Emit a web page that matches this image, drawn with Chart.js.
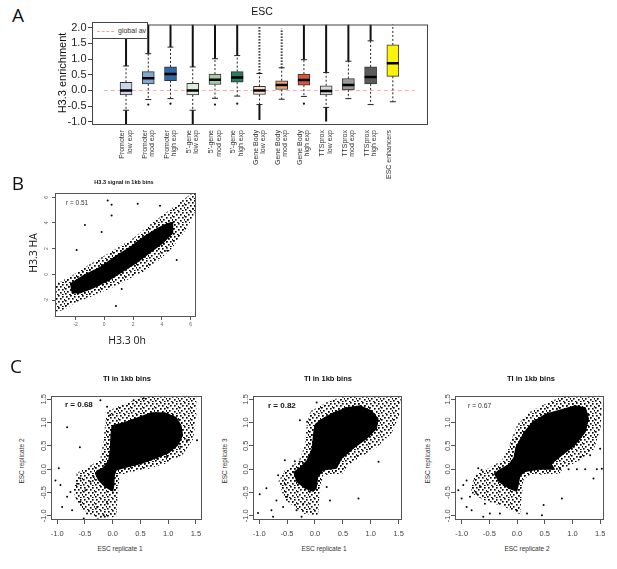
<!DOCTYPE html>
<html lang="en">
<head>
<meta charset="UTF-8">
<title>H3.3 enrichment and TI in 1kb bins</title>
<script src="https://cdn.jsdelivr.net/npm/chart.js@4.4.1/dist/chart.umd.min.js"></script>
<style>
  body { margin: 0; background: #fff; }
  #fig { position: relative; width: 617px; height: 569px; overflow: hidden;
         font-family: "Liberation Sans", Arial, sans-serif; color: #111; }
  canvas { position: absolute; }
  .t { position: absolute; white-space: nowrap; line-height: 1; transform: translate(-50%, -50%); z-index: 2; }
  .rot { transform: translate(-50%, -50%) rotate(-90deg); }
  .lbl { position: absolute; white-space: nowrap; line-height: 1; transform: translateY(-50%); z-index: 2; }
  .panel { font-family: "Open Sans", sans-serif; font-size: 19px; }
  .legend { position: absolute; left: 92px; top: 22px; width: 56px; height: 17px; background: #fff;
            border: 1px solid #444; box-sizing: border-box; z-index: 2; }
  .legend .dash { position: absolute; left: 4px; top: 8px; width: 17px; border-top: 1px dashed #f0a89c; }
  .legend span { position: absolute; left: 25px; top: 4px; font-size: 7px; color: #333; }
</style>
</head>
<body>
<div id="fig">
  <canvas id="boxA"></canvas>
  <canvas id="scatB"></canvas>
  <canvas id="scatC1"></canvas>
  <canvas id="scatC2"></canvas>
  <canvas id="scatC3"></canvas>

  <div class="t panel" style="left:18px; top:15px;">A</div>
  <div class="t" style="left:262px; top:11px; font-size:10.5px;">ESC</div>
  <div class="t rot" style="left:62px; top:73px; font-size:11px;">H3.3 enrichment</div>
  <div class="legend"><div class="dash"></div><span>global av</span></div>

  <div class="t panel" style="left:18px; top:183px;">B</div>
  <div class="t" style="left:124px; top:183px; font-size:5.5px; font-weight:bold;">H3.3 signal in 1kb bins</div>
  <div class="lbl" style="left:66px; top:203px; font-size:6.5px; color:#333;">r = 0.51</div>
  <div class="t" style="left:127px; top:340px; font-family:'Open Sans',sans-serif; font-size:10.5px;">H3.3 0h</div>
  <div class="t rot" style="left:33px; top:253px; font-family:'Open Sans',sans-serif; font-size:10.5px;">H3.3 HA</div>

  <div class="t panel" style="left:16px; top:366px;">C</div>
  <div class="t" style="left:127px; top:379px; font-size:7.5px; font-weight:bold;">TI in 1kb bins</div>
  <div class="t" style="left:328px; top:379px; font-size:7.5px; font-weight:bold;">TI in 1kb bins</div>
  <div class="t" style="left:531px; top:379px; font-size:7.5px; font-weight:bold;">TI in 1kb bins</div>
  <div class="lbl" style="left:65px; top:405px; font-size:8px; font-weight:bold;">r = 0.68</div>
  <div class="lbl" style="left:268px; top:406px; font-size:8px; font-weight:bold;">r = 0.82</div>
  <div class="lbl" style="left:468px; top:406px; font-size:6.8px; color:#333;">r = 0.67</div>
  <div class="t" style="left:120px; top:549px; font-size:6.5px; color:#333;">ESC replicate 1</div>
  <div class="t" style="left:324px; top:549px; font-size:6.5px; color:#333;">ESC replicate 1</div>
  <div class="t" style="left:527px; top:549px; font-size:6.5px; color:#333;">ESC replicate 2</div>
  <div class="t rot" style="left:22px; top:461px; font-size:6.5px; color:#333;">ESC replicate 2</div>
  <div class="t rot" style="left:225px; top:461px; font-size:6.5px; color:#333;">ESC replicate 3</div>
  <div class="t rot" style="left:428px; top:461px; font-size:6.5px; color:#333;">ESC replicate 3</div>
</div>

<script>
// ---------- Panel A: H3.3 enrichment by region class (box statistics)
const regionLabels = [
  ['Promoter', 'low exp'], ['Promoter', 'mod exp'], ['Promoter', 'high exp'],
  ["5'-gene", 'low exp'], ["5'-gene", 'mod exp'], ["5'-gene", 'high exp'],
  ['Gene Body', 'low exp'], ['Gene Body', 'mod exp'], ['Gene Body', 'high exp'],
  ['TTSprox', 'low exp'], ['TTSprox', 'mod exp'], ['TTSprox', 'high exp'],
  ['ESC enhancers']
];
const boxQ1      = [-0.14, 0.21, 0.31, -0.14, 0.19, 0.26, -0.13, 0.03, 0.17, -0.14, 0.02, 0.21, 0.45];
const boxMedian  = [0.00, 0.39, 0.52, 0.00, 0.34, 0.41, 0.00, 0.17, 0.33, -0.02, 0.17, 0.43, 0.87];
const boxQ3      = [0.26, 0.60, 0.75, 0.23, 0.52, 0.60, 0.13, 0.31, 0.52, 0.15, 0.38, 0.75, 1.45];
const whiskerLow  = [-0.63, -0.29, -0.26, -0.63, -0.25, -0.18, -0.45, -0.28, -0.19, -0.54, -0.26, -0.45, -0.36];
const whiskerHigh = [0.78, 1.17, 1.38, 0.75, 1.01, 1.11, 0.54, 0.72, 0.98, 0.57, 0.93, 1.58, 2.15];
// furthest outliers: dense runs, sparse runs and single points
const denseTop     = [2.1, 2.1, 2.1, 2.1, 2.1, 2.1, null, null, 2.1, 2.1, 2.1, 2.1, null];
const sparseTop    = [null, null, null, null, null, null, 2.02, 1.97, null, null, null, null, null];
const denseBottom  = [-1.1, null, null, -1.1, null, null, -0.94, null, null, -0.99, null, null, null];
const singleBottom = [null, -0.45, -0.42, null, -0.45, -0.42, null, null, -0.42, null, null, null, null];
const globalAverage = 0;
const enrichTicks = [-1.0, -0.5, 0.0, 0.5, 1.0, 1.5, 2.0];

const boxColors = ['#cdd5ea', '#81a6d1', '#2c69a8', '#e2ecdb', '#a8cba5', '#2b7c62', '#fadfcb',
                   '#f2a373', '#d95934', '#d9d9d9', '#9b9b9b', '#5a5a5a', '#fbf30c'];

// ---------- Panel B: H3.3 signal in 1kb bins (cloud outline, core outline, isolated points)
const bHalo = [[-3.42,-1.23],[-3.31,-0.84],[-2.38,-0.31],[-1.46,0.34],[-0.30,1.12],[0.86,1.90],[2.01,2.68],
  [3.17,3.72],[4.10,4.50],[5.03,5.28],[5.95,6.06],[6.40,6.40],[6.42,5.55],[5.95,4.24],[5.37,3.20],[4.56,2.03],
  [3.64,1.12],[2.71,0.34],[1.56,-0.31],[0.40,-0.97],[-0.99,-1.62],[-2.15,-2.14],[-2.85,-2.66],[-3.42,-2.79]];
const bCore = [[-2.38,-0.70],[-1.46,-0.05],[-0.30,0.59],[0.86,1.51],[1.78,2.16],[2.71,2.94],[3.64,3.59],
  [4.33,3.98],[4.79,4.11],[4.79,3.20],[4.10,2.42],[3.17,1.64],[2.25,0.86],[1.32,0.20],[0.40,-0.45],
  [-0.76,-1.09],[-1.69,-1.48],[-2.26,-1.48]];
const bPoints = [[0.51,5.41],[2.32,5.49],[3.87,5.34],[0.24,5.75],[0.51,4.58],[-1.34,3.85],[-0.18,3.30],
  [4.38,1.84],[5.03,1.12],[-1.92,1.90],[1.21,-1.13],[0.81,-2.45]];
const bTicks = [-2, 0, 2, 4, 6];

// ---------- Panel C: TI in 1kb bins, replicate pairs
const c1Halo = [[-0.08,1.22],[0.22,1.37],[0.52,1.51],[0.82,1.58],[1.24,1.62],[1.48,1.55],[1.48,1.08],[1.42,0.65],
  [1.24,0.33],[0.94,0.15],[0.64,0.04],[0.34,-0.03],[0.10,-0.10],[0.07,-0.49],[0.04,-0.99],[-0.26,-1.03],
  [-0.56,-0.82],[-0.68,-0.49],[-0.62,-0.10],[-0.44,0.01],[-0.20,0.19],[-0.14,0.58],[-0.11,0.94]];
const c1Core = [[-0.02,0.94],[0.22,1.01],[0.46,1.12],[0.70,1.22],[0.94,1.22],[1.15,1.12],[1.24,0.94],[1.27,0.72],
  [1.18,0.51],[1.00,0.33],[0.76,0.22],[0.52,0.11],[0.28,0.04],[0.07,-0.03],[0.04,-0.14],[0.03,-0.35],[0.01,-0.49],
  [-0.14,-0.39],[-0.26,-0.24],[-0.32,-0.10],[-0.29,-0.03],[-0.17,0.04],[-0.08,0.19],[-0.05,0.44],[-0.04,0.72]];
const c1Points = [[-0.82,0.90],[-0.59,0.47],[-0.97,0.02],[-1.03,-0.24],[-0.94,-0.34],[-0.82,-0.59],[-0.91,-0.81],
  [-0.73,-0.88],[-0.58,-0.70],[-0.49,-0.45],[-0.40,-0.27],[-0.64,-0.31],[-0.46,-0.95],[-0.28,-0.81],[-0.16,-0.99],
  [-0.52,-1.06],[-0.10,-0.70],[-0.34,-0.17],[-0.58,-0.20],[-0.76,-0.49],[-0.10,1.34],[-0.04,1.16],[-0.22,1.48],
  [0.98,0.26],[1.34,0.62],[1.52,0.62],[0.80,0.23],[1.22,0.48],[0.38,1.48],[0.56,1.52]];

const c2Halo = [[-0.06,1.22],[0.27,1.44],[0.57,1.55],[0.93,1.62],[1.35,1.62],[1.51,1.51],[1.48,1.15],[1.35,0.79],
  [1.11,0.51],[0.81,0.29],[0.57,0.11],[0.48,-0.06],[0.12,-0.10],[0.06,-0.49],[0.03,-0.96],[-0.21,-0.92],
  [-0.51,-0.64],[-0.63,-0.28],[-0.51,-0.03],[-0.27,0.15],[-0.15,0.51],[-0.12,0.94]];
const c2Core = [[0.00,0.97],[0.12,1.08],[0.33,1.22],[0.57,1.33],[0.81,1.37],[1.02,1.26],[1.14,1.08],[1.11,0.86],
  [0.93,0.65],[0.69,0.44],[0.48,0.22],[0.39,0.01],[0.15,-0.03],[0.06,-0.17],[0.03,-0.42],[-0.03,-0.49],
  [-0.18,-0.42],[-0.33,-0.28],[-0.39,-0.06],[-0.27,0.04],[-0.15,0.19],[-0.06,0.44],[-0.03,0.79]];
const c2Points = [[0.03,1.43],[-0.14,1.02],[-0.27,1.05],[-0.99,-0.54],[-1.02,-0.94],[-0.78,-0.88],[-0.69,-0.67],
  [-0.87,-0.41],[-0.66,-0.13],[-0.54,0.19],[-0.36,0.17],[-0.27,0.16],[-0.54,-0.31],[-0.50,-0.59],[-0.33,-0.88],
  [-0.57,-0.81],[-0.75,-1.02],[-0.24,-1.02],[-0.21,-0.74],[0.21,-0.38],[0.27,-0.67],[0.78,-0.63],[1.14,0.16]];

const c3Halo = [[-0.09,0.58],[0.03,0.94],[0.27,1.22],[0.57,1.40],[0.93,1.58],[1.42,1.62],[1.51,1.37],[1.48,0.86],
  [1.36,0.44],[1.12,0.22],[0.81,0.04],[0.75,-0.06],[0.21,-0.10],[0.09,-0.21],[0.06,-0.56],[0.03,-0.92],
  [-0.21,-0.78],[-0.57,-0.64],[-0.81,-0.49],[-0.75,-0.14],[-0.51,-0.01],[-0.27,0.15],[-0.15,0.36]];
const c3Core = [[-0.03,0.47],[0.12,0.79],[0.27,1.01],[0.51,1.19],[0.81,1.29],[1.05,1.37],[1.24,1.33],[1.30,1.08],
  [1.24,0.79],[1.05,0.51],[0.81,0.29],[0.63,0.11],[0.69,-0.01],[0.39,-0.01],[0.15,-0.06],[0.06,-0.14],
  [0.03,-0.35],[0.00,-0.49],[-0.15,-0.42],[-0.33,-0.28],[-0.42,-0.10],[-0.33,-0.01],[-0.15,0.11],[-0.06,0.26]];
const c3Points = [[-0.01,0.64],[0.78,0.0],[0.93,0.0],[1.08,0.0],[1.23,0.0],[1.44,0.0],[1.53,0.01],[1.38,-0.20],
  [1.57,-0.13],[0.81,-0.63],[0.48,-0.77],[0.45,-0.99],[0.18,-0.95],[-0.01,-0.88],[-0.70,0.02],[-0.64,-0.02],
  [-1.06,-0.45],[-0.97,-0.34],[-1.00,-0.63],[-0.91,-0.81],[-0.82,-0.88],[-0.73,-0.52],[-0.58,-0.74],[-0.49,-0.95],
  [-0.61,-1.02],[-0.31,-0.95],[-0.85,-0.59],[-0.67,-0.38],[-0.91,-0.24],[1.50,0.44],[1.32,0.30],[1.14,0.26]];
const repTicks = [-1.0, -0.5, 0.0, 0.5, 1.0, 1.5];

// ---------- helpers
const framePlugin = {
  id: 'frame',
  afterDatasetsDraw(chart, args, opts) {
    const { ctx, chartArea: a } = chart;
    ctx.save();
    ctx.strokeStyle = opts.color || '#444';
    ctx.lineWidth = 1;
    ctx.strokeRect(a.left + 0.5, a.top + 0.5, a.right - a.left - 1, a.bottom - a.top - 1);
    ctx.restore();
  }
};

function mount(id, box, m) {
  const cv = document.getElementById(id);
  cv.width = box.r - box.l + m.l + m.r;
  cv.height = box.b - box.t + m.t + m.b;
  cv.style.left = (box.l - m.l) + 'px';
  cv.style.top = (box.t - m.t) + 'px';
  return cv;
}

const toXY = arr => arr.map(([x, y]) => ({ x, y }));
const closed = arr => toXY(arr.concat([arr[0]]));

// vertical segments separated by gaps
function segments(list) {
  const out = [];
  list.forEach(([x, a, b]) => {
    if (a == null || b == null) return;
    out.push({ x, y: a }, { x, y: b }, { x, y: null });
  });
  return out;
}

// grain texture for the speckled fringe of a point cloud (a fill style, not data)
function stipple() {
  const c = document.createElement('canvas');
  c.width = 12; c.height = 12;
  const g = c.getContext('2d');
  g.fillStyle = '#000';
  [[1,1],[5,0],[9,1],[3,3],[7,3],[11,4],[0,5],[5,6],[9,6],[2,8],[7,9],[11,8],[4,11],[9,11],[0,10]]
    .forEach(([x, y]) => g.fillRect(x, y, 1.6, 1.6));
  return g.createPattern(c, 'repeat');
}
const speckle = stipple();

// ---------- Panel A chart
(function () {
  const box = { l: 92, t: 22, r: 428, b: 125 };
  const m = { l: 52, t: 6, r: 14, b: 60 };
  const cv = mount('boxA', box, m);
  const xs = regionLabels.map((_, i) => i + 1);
  const yMax = 2.1;

  const whiskers = segments(xs.flatMap((x, i) => [[x, boxQ3[i], whiskerHigh[i]], [x, boxQ1[i], whiskerLow[i]]]));
  const dense = segments(xs.flatMap((x, i) => [[x, whiskerHigh[i], denseTop[i]], [x, whiskerLow[i], denseBottom[i]]]));
  const sparse = segments(xs.map((x, i) => [x, whiskerHigh[i], sparseTop[i]]));
  const caps = xs.flatMap((x, i) => [{ x, y: whiskerLow[i] }, { x, y: whiskerHigh[i] }]).filter(p => p.y < yMax);
  const singles = xs.map((x, i) => ({ x, y: singleBottom[i] })).filter(p => p.y != null);

  new Chart(cv, {
    type: 'scatter',
    data: {
      datasets: [
        { data: xs.map((x, i) => ({ x, y: boxMedian[i] })), pointStyle: 'line', pointRadius: 6,
          pointBorderWidth: 2.5, pointBorderColor: '#000' },
        { data: caps, pointStyle: 'line', pointRadius: 3, pointBorderWidth: 1, pointBorderColor: '#222' },
        { data: singles, pointRadius: 1.1, pointBackgroundColor: '#111', pointBorderWidth: 0 },
        { type: 'bar', data: xs.map((x, i) => ({ x, y: [boxQ1[i], boxQ3[i]] })), barThickness: 12,
          backgroundColor: boxColors, borderColor: '#333', borderWidth: 1, borderSkipped: false },
        { type: 'line', data: whiskers, borderColor: '#222', borderWidth: 1, borderDash: [2, 2],
          pointRadius: 0, spanGaps: false },
        { type: 'line', data: dense, borderColor: '#111', borderWidth: 2, pointRadius: 0, spanGaps: false },
        { type: 'line', data: sparse, borderColor: '#111', borderWidth: 2, borderDash: [1.3, 1.7],
          pointRadius: 0, spanGaps: false },
        { type: 'line', data: [{ x: 0, y: globalAverage }, { x: 14, y: globalAverage }], borderColor: '#f3b0a5',
          borderWidth: 1, borderDash: [4, 3], pointRadius: 0 }
      ]
    },
    options: {
      responsive: false, animation: false, events: [],
      layout: { padding: { left: 0, top: m.t, right: m.r, bottom: 0 } },
      plugins: { legend: { display: false }, tooltip: { enabled: false }, frame: { color: '#444' } },
      scales: {
        x: {
          type: 'linear', min: 0.05, max: 14,
          afterBuildTicks: s => { s.ticks = xs.map(v => ({ value: v })); },
          afterFit: s => { s.height = m.b; },
          border: { display: false },
          grid: { display: false, drawTicks: false },
          ticks: { autoSkip: false, minRotation: 90, maxRotation: 90, padding: 5, labelOffset: -3.7,
                   color: '#333', font: { family: 'Liberation Sans', size: 7, lineHeight: 1.05 },
                   callback: v => regionLabels[v - 1] || '' }
        },
        y: {
          min: -1.1, max: yMax,
          afterBuildTicks: s => { s.ticks = enrichTicks.map(v => ({ value: v })); },
          afterFit: s => { s.width = m.l; },
          border: { display: false },
          grid: { drawOnChartArea: false, drawTicks: true, tickLength: 4, color: '#444' },
          ticks: { padding: 1.5, color: '#222', font: { family: 'Liberation Sans', size: 11 },
                   callback: v => v.toFixed(1) }
        }
      }
    },
    plugins: [framePlugin]
  });
})();

// ---------- scatter panels
function cloudSets(halo, core, points) {
  return [
    { data: toXY(points), pointRadius: 1, pointBackgroundColor: '#000', pointBorderWidth: 0, order: 0 },
    { type: 'line', data: closed(core), fill: 'shape', backgroundColor: '#000', borderColor: speckle,
      borderWidth: 5, borderJoinStyle: 'round', pointRadius: 0, tension: 0, order: 1 },
    { type: 'line', data: closed(halo), fill: 'shape', backgroundColor: speckle, borderColor: speckle,
      borderWidth: 3, pointRadius: 0, tension: 0, order: 2 }
  ];
}

function scatterPanel(id, box, xr, yr, ticks, look, sets) {
  const m = look.margin;
  const cv = mount(id, box, m);
  const font = { family: 'Liberation Sans', size: look.size };
  const grid = { drawOnChartArea: false, drawTicks: true, tickLength: look.tl, color: '#555' };
  return new Chart(cv, {
    type: 'scatter',
    data: { datasets: sets },
    options: {
      responsive: false, animation: false, events: [],
      layout: { padding: { left: 0, top: m.t, right: m.r, bottom: 0 } },
      plugins: { legend: { display: false }, tooltip: { enabled: false }, frame: { color: '#555' } },
      scales: {
        x: {
          type: 'linear', min: xr[0], max: xr[1],
          afterBuildTicks: s => { s.ticks = ticks.map(v => ({ value: v })); },
          afterFit: s => { s.height = m.b; },
          border: { display: false }, grid,
          ticks: { autoSkip: false, minRotation: 0, maxRotation: 0, padding: look.xpad,
                   color: look.color, font, callback: look.fmt }
        },
        y: {
          type: 'linear', min: yr[0], max: yr[1],
          afterBuildTicks: s => { s.ticks = ticks.map(v => ({ value: v })); },
          afterFit: s => { s.width = m.l; },
          border: { display: false }, grid,
          ticks: { autoSkip: false, minRotation: 90, maxRotation: 90, crossAlign: 'center',
                   padding: look.ypad, color: look.color, font, callback: look.fmt }
        }
      }
    },
    plugins: [framePlugin]
  });
}

const lookB = { margin: { l: 14, t: 6, r: 8, b: 16 }, size: 5, tl: 3, xpad: 2, ypad: 2.8, color: '#666',
                fmt: v => String(v) };
const lookC = { margin: { l: 16, t: 6, r: 10, b: 22 }, size: 7.5, tl: 4, xpad: 5.5, ypad: -3, color: '#444',
                fmt: v => v.toFixed(1) };

scatterPanel('scatB', { l: 55, t: 193, r: 196, b: 317 }, [-3.42, 6.37], [-3.31, 6.33], bTicks, lookB,
  cloudSets(bHalo, bCore, bPoints));
scatterPanel('scatC1', { l: 51, t: 396, r: 202, b: 520 }, [-1.11, 1.61], [-1.09, 1.57], repTicks, lookC,
  cloudSets(c1Halo, c1Core, c1Points));
scatterPanel('scatC2', { l: 253, t: 396, r: 402, b: 520 }, [-1.11, 1.56], [-1.09, 1.57], repTicks, lookC,
  cloudSets(c2Halo, c2Core, c2Points));
scatterPanel('scatC3', { l: 455, t: 396, r: 604, b: 520 }, [-1.12, 1.57], [-1.09, 1.57], repTicks, lookC,
  cloudSets(c3Halo, c3Core, c3Points));
</script>
</body>
</html>
